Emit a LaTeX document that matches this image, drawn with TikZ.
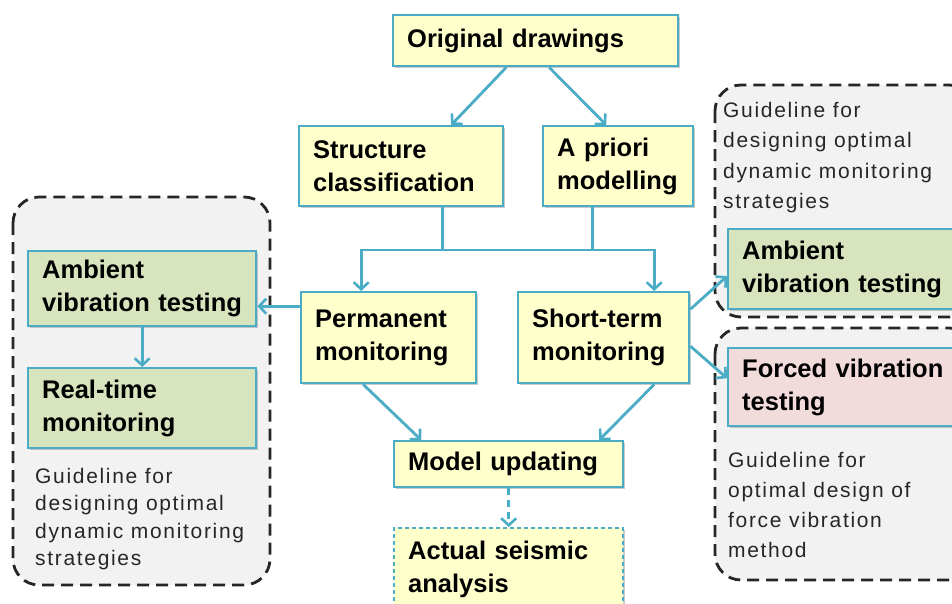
\documentclass[tikz,border=0pt]{standalone}
\usepackage{fontspec}
\setmainfont{Liberation Sans}
\newfontfamily\guidefont[LetterSpace=8]{Liberation Sans}
\usetikzlibrary{arrows.meta,shadows}
\definecolor{cyanline}{HTML}{4BACC6}
\definecolor{yelfill}{HTML}{FFFFCC}
\definecolor{grnfill}{HTML}{D7E4BD}
\definecolor{pnkfill}{HTML}{F2DCDB}
\definecolor{grayfill}{HTML}{F2F2F2}
\definecolor{dashgray}{HTML}{262626}
\tikzset{
  box/.style={draw=cyanline, line width=2.4pt, fill=yelfill, anchor=north west,
    inner xsep=14pt, inner ysep=0pt, align=left,
    font=\fontsize{25.5}{33}\selectfont\bfseries,
    drop shadow={shadow xshift=2pt, shadow yshift=-2pt, opacity=0.35, fill=black!60}},
  grnbox/.style={box, fill=grnfill},
  pnkbox/.style={box, fill=pnkfill},
  group/.style={draw=dashgray, line width=2.8pt, dash pattern=on 12pt off 7pt,
    fill=grayfill, rounded corners=26pt},
  guide/.style={anchor=north west, align=left, inner sep=0pt, text=black!85},
  arr/.style={draw=cyanline, line width=2.8pt, -{Straight Barb[length=7pt,width=15pt,line width=2.6pt]}},
  lin/.style={draw=cyanline, line width=2.8pt},
}
\begin{document}
\begin{tikzpicture}[x=1pt,y=-1pt]
\useasboundingbox (0,0) rectangle (952,603);
% dashed groups
\draw[group] (13,197) rectangle (270,585);
\draw[group] (715,85) rectangle (975,317);
\draw[group] (715,328) rectangle (975,580);
% main boxes
\node[box, text width=257pt, minimum height=51pt] (orig) at (392,14) {Original drawings};
\node[box, text width=176pt, minimum height=80pt] (struct) at (298,125) {Structure\\classification};
\node[box, text width=122pt, minimum height=80pt] (apriori) at (542,125) {A priori\\modelling};
\node[box, text width=147pt, minimum height=91pt] (perm) at (300,291) {Permanent\\monitoring};
\node[box, text width=143pt, minimum height=91pt] (short) at (517,291) {Short-term\\monitoring};
\node[box, text width=201pt, minimum height=46pt] (model) at (393,440) {Model updating};
\node[box, text width=201pt, minimum height=82pt, dash pattern=on 4pt off 3pt] (actual) at (393,527) {Actual seismic\\analysis};
% left group
\node[grnbox, text width=200pt, minimum height=75pt] (ambL) at (27,250) {Ambient\\vibration testing};
\node[grnbox, text width=200pt, minimum height=80pt] (rt) at (27,367) {Real-time\\monitoring};
\node[guide, font=\fontsize{21}{27.4}\selectfont\guidefont] (gL) at (35,468) {Guideline for\\designing optimal\\dynamic monitoring\\strategies};
% right groups
\node[guide, font=\fontsize{21}{30.3}\selectfont\guidefont] (gR1) at (723,102) {Guideline for\\designing optimal\\dynamic monitoring\\strategies};
\node[grnbox, text width=230pt, minimum height=80pt] (ambR) at (727,228) {Ambient\\vibration testing};
\node[pnkbox, text width=230pt, minimum height=78pt] (forced) at (727,347) {Forced vibration\\testing};
\node[guide, font=\fontsize{21}{30}\selectfont\guidefont] (gR2) at (728,452) {Guideline for\\optimal design of\\force vibration\\method};
% connectors
\draw[arr] ([xshift=-29.5pt]orig.south) -- ([xshift=50pt]struct.north);
\draw[arr] ([xshift=13.5pt]orig.south) -- ([xshift=-12pt]apriori.north);
\coordinate (bus) at (0,250);
\coordinate (sd) at ([xshift=41pt]struct.south);
\coordinate (ad) at ([xshift=-26pt]apriori.south);
\coordinate (pn) at ([xshift=-27.5pt]perm.north);
\coordinate (sn) at ([xshift=50.5pt]short.north);
\draw[lin] (sd) -- (sd |- bus);
\draw[lin] (ad) -- (ad |- bus);
\draw[lin, line cap=rect] (pn |- bus) -- (sn |- bus);
\draw[arr] (pn |- bus) -- (pn);
\draw[arr] (sn |- bus) -- (sn);
\draw[arr] ([xshift=-25.5pt]perm.south) -- ([xshift=-87.5pt]model.north);
\draw[arr] ([xshift=50.5pt]short.south) -- ([xshift=90.5pt]model.north);
\draw[arr, dash pattern=on 7pt off 5pt] (model.south) -- (actual.north);
\draw[arr] ([yshift=31.5pt]perm.west) -- ([yshift=-17.5pt]ambL.east);
\draw[arr] (ambL.south) -- (rt.north);
\draw[arr] ([yshift=28.5pt]short.east) -- ([yshift=-7pt]ambR.west);
\draw[arr] ([yshift=-8.5pt]short.east) -- ([yshift=9pt]forced.west);
\end{tikzpicture}
\end{document}
